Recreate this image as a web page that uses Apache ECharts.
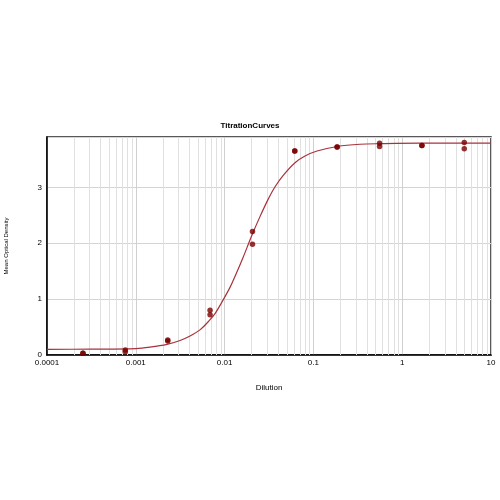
<!DOCTYPE html>
<html>
<head>
<meta charset="utf-8">
<script src="https://cdn.jsdelivr.net/npm/echarts@6/dist/echarts.min.js"></script>
<style>html,body{margin:0;padding:0;background:#fff}#c{width:500px;height:500px}</style>
</head>
<body>
<div id="c"></div>
<script>
var dilutions = [0.000254, 0.000762, 0.00229, 0.00686, 0.0206, 0.0617, 0.185, 0.556, 1.667, 5.0];
var rep1 = [0.03, 0.09, 0.27, 0.80, 2.21, 3.65, 3.72, 3.79, 3.75, 3.80];
var rep2 = [0.03, 0.06, 0.25, 0.72, 1.98, 3.65, 3.72, 3.73, 3.75, 3.69];
var curveX = [0.0001, 0.000313, 0.001, 0.001445, 0.002245, 0.00315, 0.00408, 0.00528, 0.00667, 0.0078, 0.00935, 0.0115, 0.0138, 0.0161, 0.0204, 0.0251, 0.0308, 0.037, 0.0455, 0.0621, 0.0804, 0.11, 0.185, 0.335, 0.562, 1.585, 10];
var curveY = [0.10, 0.105, 0.115, 0.14, 0.19, 0.26, 0.34, 0.45, 0.61, 0.74, 0.95, 1.21, 1.49, 1.74, 2.15, 2.48, 2.78, 3.01, 3.21, 3.44, 3.56, 3.65, 3.73, 3.77, 3.78, 3.79, 3.79];
var xTicks = [0.0001, 0.001, 0.01, 0.1, 1, 10];
var yTicks = [0, 1, 2, 3];
var yMax = 3.9;

var minorLines = [];
for (var i = 0; i < xTicks.length - 1; i++) {
  for (var m = 2; m <= 9; m++) minorLines.push([+(xTicks[i] * m).toPrecision(6), 0]);
}
var pts1 = dilutions.map(function (d, i) { return [d, rep1[i]]; });
var pts2 = dilutions.map(function (d, i) { return [d, rep2[i]]; });
var curve = curveX.map(function (d, i) { return [d, curveY[i]]; });

var chart = echarts.init(document.getElementById('c'), null, { renderer: 'canvas' });
chart.setOption({
  animation: false,
  backgroundColor: '#fff',
  title: {
    text: 'TitrationCurves', left: 'center', top: 117,
    textStyle: { fontFamily: 'Liberation Sans', fontSize: 8, fontWeight: 'bold', color: '#000' }
  },
  grid: { left: 47, right: 9, top: 137, bottom: 145, outerBoundsMode: 'none', containLabel: false,
    show: true, borderColor: '#222', borderWidth: 1.5, backgroundColor: 'transparent' },
  xAxis: {
    type: 'log', logBase: 10, min: 0.0001, max: 10,
    name: 'Dilution', nameLocation: 'middle', nameGap: 29,
    nameTextStyle: { fontFamily: 'Liberation Sans', fontSize: 8, color: '#000' },
    axisLine: { show: true, lineStyle: { color: '#000', width: 1.5 } },
    axisTick: { show: false },
    axisLabel: { fontFamily: 'Liberation Sans', fontSize: 8, color: '#000', margin: 4,
      formatter: function (v) { return String(v); } },
    splitLine: { show: true, lineStyle: { color: '#d0d0d0', width: 1 } }
  },
  yAxis: {
    type: 'value', min: 0, max: yMax, interval: 1,
    name: 'Mean Optical Density', nameLocation: 'middle', nameGap: 38, nameRotate: 90,
    nameTextStyle: { fontFamily: 'Liberation Sans', fontSize: 6, color: '#000' },
    axisLine: { show: true, lineStyle: { color: '#000', width: 1.5 } },
    axisTick: { show: false },
    axisLabel: { fontFamily: 'Liberation Sans', fontSize: 8, color: '#000', margin: 5, showMaxLabel: false },
    splitLine: { show: true, lineStyle: { color: '#d4d4d4', width: 1 } }
  },
  series: [
    {
      type: 'custom', data: minorLines, silent: true, z: 1, clip: true,
      renderItem: function (params, api) {
        var v = api.value(0);
        var p0 = api.coord([v, 0]);
        var p1 = api.coord([v, yMax]);
        var x = Math.round(p0[0]) + 0.5;
        return { type: 'line', shape: { x1: x, y1: p0[1], x2: x, y2: p1[1] },
          style: { stroke: '#e0e0e0', lineWidth: 1 } };
      }
    },
    {
      type: 'line', data: curve, smooth: 0.3, showSymbol: false, symbol: 'none',
      lineStyle: { color: '#a8323c', width: 1.2 }, z: 3
    },
    {
      type: 'scatter', data: pts1, symbol: 'circle', symbolSize: 5.5,
      itemStyle: { color: '#7a0000' }, z: 6
    },
    {
      type: 'scatter', data: pts2, symbol: 'circle', symbolSize: 5.5,
      itemStyle: { color: '#7a0000' }, z: 6
    }
  ]
});
</script>
</body>
</html>
